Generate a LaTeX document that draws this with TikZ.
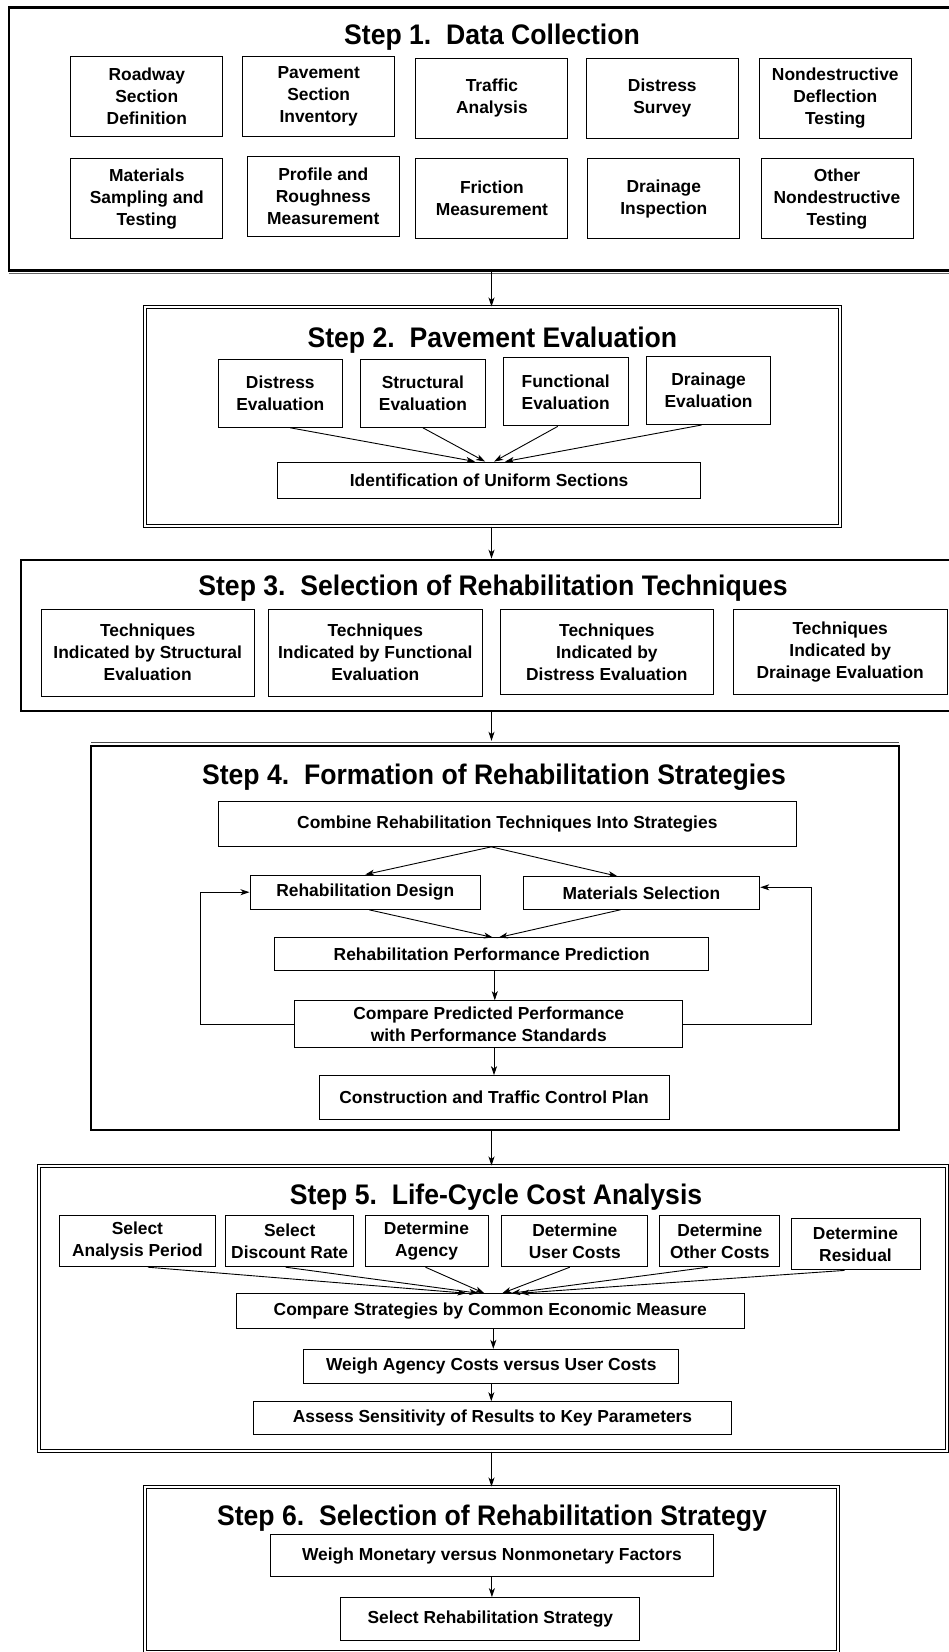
\documentclass[tikz,border=0pt]{standalone}
\usepackage{fontspec}
\setmainfont{Liberation Sans}
\newfontfamily\headfam{Liberation Sans}[FakeStretch=0.94]
\usetikzlibrary{arrows.meta}

% text sizes for the box labels and the step headings
\newcommand\bxfont{\fontsize{17.4}{22}\selectfont\bfseries}
\newcommand\stfont{\headfam\fontsize{28.3}{32}\selectfont\bfseries}

\begin{document}
\begin{tikzpicture}[x=1pt,y=-1pt,
  box/.style={draw, line width=1pt, align=center, inner sep=0pt, font=\bxfont},
  ttl/.style={font=\stfont, inner sep=0pt},
  arr/.style={-{Stealth[length=9pt,width=6pt,inset=2.5pt]}, line width=0.9pt},
  heavyframe/.style={draw, line width=2.4pt, inner sep=0pt},
  dblframe/.style={draw, line width=1pt, double distance=1.6pt, inner sep=0pt}
]
\useasboundingbox (0,0) rectangle (949,1652);
\coordinate (axis) at (491.5,0);

% ---------------- Step 1 ----------------
\node[heavyframe, minimum width=951pt, minimum height=263pt] (f1) at (484.5,139) {};
\draw[line width=0.9pt, black!60] (8.5,273) -- (960,273);
\node[ttl] (t1) at (492,37) {Step 1.\ \ Data Collection};
\begin{scope}[every node/.append style={minimum width=152pt, minimum height=80pt}]
\node[box] (r1) at (146.8,96)  {Roadway\\Section\\Definition};
\node[box] (r2) at (318.7,96)  {Pavement\\Section\\Inventory};
\node[box] (r3) at (491.9,98)  {Traffic\\Analysis};
\node[box] (r4) at (662.3,98)  {Distress\\Survey};
\node[box] (r5) at (835.3,98)  {Nondestructive\\Deflection\\Testing};
\node[box] (s1) at (146.8,198.7) {Materials\\Sampling and\\Testing};
\node[box] (s2) at (323.3,196)   {Profile and\\Roughness\\Measurement};
\node[box] (s3) at (491.9,198.7) {Friction\\Measurement};
\node[box] (s4) at (663.8,198.7) {Drainage\\Inspection};
\node[box] (s5) at (837,198.7)   {Other\\Nondestructive\\Testing};
\end{scope}

% ---------------- Step 2 ----------------
\node[dblframe, minimum width=695pt, minimum height=219pt] (f2) at (492.5,416.5) {};
\node[ttl] (t2) at (492.4,340) {Step 2.\ \ Pavement Evaluation};
\begin{scope}[every node/.append style={minimum width=124.6pt, minimum height=68pt}]
\node[box] (d1) at (280.3,393.3) {Distress\\Evaluation};
\node[box] (d2) at (422.9,393.3) {Structural\\Evaluation};
\node[box] (d3) at (565.7,391.9) {Functional\\Evaluation};
\node[box] (d4) at (708.6,390.5) {Drainage\\Evaluation};
\end{scope}
\node[box, minimum width=422.6pt, minimum height=36.3pt] (idu) at (489.1,480.2) {Identification of Uniform Sections};
\draw[arr] ([xshift=10pt]d1.south) -- ([xshift=-14pt]idu.north);
\draw[arr] (d2.south) -- ([xshift=-4pt]idu.north);
\draw[arr] ([xshift=-8pt]d3.south) -- ([xshift=5pt]idu.north);
\draw[arr] ([xshift=-7pt]d4.south) -- ([xshift=16pt]idu.north);

% ---------------- Step 3 ----------------
\node[heavyframe, line width=2.6pt, minimum width=939pt, minimum height=151pt] (f3) at (490.5,635.5) {};
\node[ttl] (t3) at (493,588) {Step 3.\ \ Selection of Rehabilitation Techniques};
\node[box, minimum width=213pt, minimum height=86.7pt] (q1) at (147.7,652.7) {Techniques\\Indicated by Structural\\Evaluation};
\node[box, minimum width=214.2pt, minimum height=86.7pt] (q2) at (375.3,652.7) {Techniques\\Indicated by Functional\\Evaluation};
\node[box, minimum width=213.7pt, minimum height=85pt] (q3) at (606.9,651.8) {Techniques\\Indicated by\\Distress Evaluation};
\node[box, minimum width=214.4pt, minimum height=85pt] (q4) at (840.2,651.8) {Techniques\\Indicated by\\Drainage Evaluation};

% ---------------- Step 4 ----------------
\node[heavyframe, minimum width=808pt, minimum height=384pt] (f4) at (495,938) {};
\draw[line width=0.9pt, black!70] (91,742) -- (899,742);
\node[ttl] (t4) at (494,777) {Step 4.\ \ Formation of Rehabilitation Strategies};
\node[box, minimum width=578.6pt, minimum height=45.3pt] (comb) at (507.3,823.7) {Combine Rehabilitation Techniques Into Strategies};
\node[box, minimum width=230.6pt, minimum height=34.3pt] (rd) at (365.3,892.2) {Rehabilitation Design};
\node[box, minimum width=236.7pt, minimum height=32.6pt] (ms) at (641.4,893) {Materials Selection};
\node[box, minimum width=434pt, minimum height=32.7pt] (rpp) at (491.8,954.3) {Rehabilitation Performance Prediction};
\node[box, minimum width=388pt, minimum height=46.6pt] (cmp) at (488.8,1024) {Compare Predicted Performance\\with Performance Standards};
\node[box, minimum width=350pt, minimum height=43.6pt] (ctc) at (494,1097.5) {Construction and Traffic Control Plan};
\draw[arr] ([xshift=-16pt]comb.south) -- (rd.north);
\draw[arr] ([xshift=-16pt]comb.south) -- ([xshift=-24pt]ms.north);
\draw[arr] ([xshift=4pt]rd.south) -- ([xshift=1pt]rpp.north);
\draw[arr] ([xshift=-21pt]ms.south) -- ([xshift=7pt]rpp.north);
\draw[arr, line width=0.7pt] ([xshift=3pt]rpp.south) -- ([xshift=3pt]rpp.south |- cmp.north);
\draw[arr] (cmp.west) -- ++(-94,0) |- (rd.west);
\draw[arr] (cmp.east) -- ++(128,0) |- ([yshift=5.7pt]ms.east);
\draw[arr] (ctc.north |- cmp.south) -- (ctc.north);

% ---------------- Step 5 ----------------
\node[dblframe, minimum width=908pt, minimum height=285pt] (f5) at (493,1308.5) {};
\node[ttl] (t5) at (496,1197) {Step 5.\ \ Life-Cycle Cost Analysis};
\begin{scope}[every node/.append style={minimum height=51pt}]
\node[box, minimum width=156.2pt] (a1) at (137.4,1241.2) {Select\\Analysis Period};
\node[box, minimum width=127.7pt] (a2) at (289.7,1241.2) {Select\\Discount Rate};
\node[box, minimum width=123pt]   (a3) at (426.5,1241.2) {Determine\\Agency};
\node[box, minimum width=145.9pt] (a4) at (574.8,1241.2) {Determine\\User Costs};
\node[box, minimum width=119.9pt] (a5) at (719.8,1241.2) {Determine\\Other Costs};
\node[box, minimum width=129pt]   (a6) at (855.5,1244.4) {Determine\\Residual};
\end{scope}
\node[box, minimum width=508.6pt, minimum height=34.6pt] (csm) at (490.3,1311) {Compare Strategies by Common Economic Measure};
\node[box, minimum width=374.7pt, minimum height=34pt] (wac) at (491.3,1366.3) {Weigh Agency Costs versus User Costs};
\node[box, minimum width=478.9pt, minimum height=32.3pt] (ass) at (492.5,1417.9) {Assess Sensitivity of Results to Key Parameters};
\draw[arr] ([xshift=10.6pt]a1.south) -- ([xshift=-24pt]csm.north);
\draw[arr] ([xshift=-4pt]a2.south) -- ([xshift=-12pt]csm.north);
\draw[arr] ([xshift=-1pt]a3.south) -- ([xshift=-6pt]csm.north);
\draw[arr] ([xshift=-5pt]a4.south) -- ([xshift=12pt]csm.north);
\draw[arr] ([xshift=-12pt]a5.south) -- ([xshift=21pt]csm.north);
\draw[arr] ([xshift=-11pt]a6.south) -- ([xshift=30pt]csm.north);
\draw[arr] ([xshift=2pt]wac.north |- csm.south) -- ([xshift=2pt]wac.north);
\draw[arr] (wac.south) -- (wac.south |- ass.north);

% ---------------- Step 6 ----------------
\node[dblframe, minimum width=693pt, minimum height=165pt] (f6) at (491.5,1569.5) {};
\node[ttl] (t6) at (492,1518) {Step 6.\ \ Selection of Rehabilitation Strategy};
\node[box, minimum width=443.7pt, minimum height=41.7pt] (wm) at (491.9,1555.8) {Weigh Monetary versus Nonmonetary Factors};
\node[box, minimum width=299pt, minimum height=43.3pt] (srs) at (490.3,1619.3) {Select Rehabilitation Strategy};
\draw[arr] (wm.south) -- (wm.south |- srs.north);

% ---------------- links between the steps ----------------
\draw[arr] (f1.south -| axis) -- (f2.north -| axis);
\draw[arr] (f2.south -| axis) -- (f3.north -| axis);
\draw[arr] (f3.south -| axis) -- ([yshift=4pt]f4.north -| axis);
\draw[arr] (f4.south -| axis) -- (f5.north -| axis);
\draw[arr] (f5.south -| axis) -- (f6.north -| axis);
\end{tikzpicture}
\end{document}
